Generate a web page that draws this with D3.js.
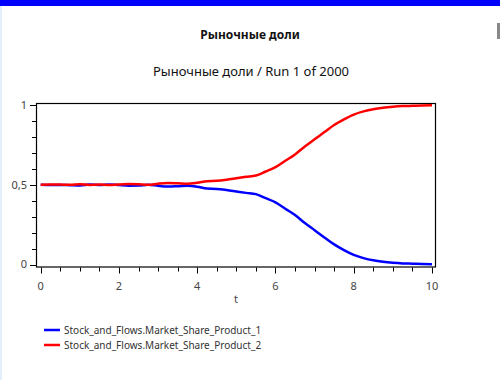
<!DOCTYPE html>
<html><head><meta charset="utf-8">
<script src="https://cdn.jsdelivr.net/npm/d3@7"></script>
<style>body{margin:0;background:#fff;}svg{display:block;}</style>
</head><body>
<script>
const title = "Рыночные доли";
const subtitle = "Рыночные доли / Run 1 of 2000";
const xLabel = "t";
const seriesNames = ["Stock_and_Flows.Market_Share_Product_1","Stock_and_Flows.Market_Share_Product_2"];
const seriesColors = ["#0000ff","#ff0000"];
const tValues = [0,0.25,0.5,0.75,1,1.25,1.5,1.75,2,2.25,2.5,2.75,3,3.25,3.5,3.75,4,4.25,4.5,4.75,5,5.25,5.5,5.75,6,6.25,6.5,6.75,7,7.25,7.5,7.75,8,8.25,8.5,8.75,9,9.25,9.5,9.75,10];
const product2 = [0.500,0.502,0.501,0.500,0.503,0.499,0.501,0.498,0.502,0.504,0.503,0.500,0.507,0.511,0.509,0.506,0.512,0.522,0.525,0.532,0.541,0.550,0.558,0.583,0.610,0.650,0.690,0.740,0.785,0.830,0.875,0.910,0.940,0.960,0.974,0.983,0.989,0.993,0.995,0.997,0.998];
const product1 = [0.500,0.498,0.499,0.497,0.495,0.501,0.499,0.502,0.498,0.494,0.495,0.500,0.493,0.489,0.491,0.494,0.488,0.476,0.474,0.467,0.458,0.449,0.441,0.416,0.390,0.350,0.310,0.260,0.215,0.170,0.126,0.090,0.060,0.040,0.026,0.017,0.011,0.007,0.005,0.003,0.002];
const xTicks = [0,2,4,6,8,10];
const yTicks = [0,0.5,1];
const yTickLabels = ["0","0,5","1"];

const W=500,H=380;
const svg=d3.select("body").append("svg").attr("width",W).attr("height",H);
const font="'Noto Sans', sans-serif";
svg.append("rect").attr("x",0).attr("y",0).attr("width",W).attr("height",6).attr("fill","#0000ff");
svg.append("rect").attr("x",0).attr("y",6).attr("width",2).attr("height",H-6).attr("fill","#e3f0fc");
svg.append("rect").attr("x",497).attr("y",23).attr("width",3).attr("height",16).attr("fill","#888");

svg.append("text").attr("x",250).attr("y",39).attr("text-anchor","middle").attr("font-family",font).attr("font-weight","bold").attr("font-size",12).attr("fill","#111").text(title);
svg.append("text").attr("x",251).attr("y",76).attr("text-anchor","middle").attr("font-family",font).attr("font-size",13).attr("fill","#111").text(subtitle);

const x=d3.scaleLinear().domain([0,10]).range([40.7,432]);
const y=d3.scaleLinear().domain([0,1]).range([264.5,105]);
const boxL=36,boxR=436,boxT=103,boxB=267.5;

svg.append("rect").attr("x",boxL+0.5).attr("y",boxT+0.5).attr("width",boxR-boxL-1).attr("height",boxB-boxT-1).attr("fill","none").attr("stroke","#000").attr("stroke-width",1.2);

const yMinor=d3.range(0,1.0001,0.1);
const ya=svg.append("g").attr("transform",`translate(${boxL},0)`);
ya.selectAll("line").data(yMinor).join("line")
 .attr("x1",d=>yTicks.some(t=>Math.abs(t-d)<1e-6)?-6:-4).attr("x2",0)
 .attr("y1",d=>Math.round(y(d))+0.5).attr("y2",d=>Math.round(y(d))+0.5).attr("stroke","#000");
ya.selectAll("text").data(yTicks).join("text")
 .attr("x",-9).attr("y",d=>y(d)).attr("dy","0.35em").attr("text-anchor","end")
 .attr("font-family",font).attr("font-size",11).attr("fill","#444").text((d,i)=>yTickLabels[i]);

const xMinor=d3.range(0,10.0001,0.5);
const xa=svg.append("g").attr("transform",`translate(0,${boxB})`);
xa.selectAll("line").data(xMinor).join("line")
 .attr("x1",d=>Math.round(x(d))+0.5).attr("x2",d=>Math.round(x(d))+0.5)
 .attr("y1",0).attr("y2",d=>xTicks.some(t=>Math.abs(t-d)<1e-6)?6:4).attr("stroke","#000");
xa.selectAll("text").data(xTicks).join("text")
 .attr("x",d=>x(d)).attr("y",22).attr("text-anchor","middle")
 .attr("font-family",font).attr("font-size",11).attr("fill","#444").text(d=>d);
svg.append("text").attr("x",236).attr("y",303).attr("text-anchor","middle").attr("font-family",font).attr("font-size",11).attr("fill","#444").text(xLabel);

const line=d3.line().x((d,i)=>x(tValues[i])).y(d=>y(d)).curve(d3.curveMonotoneX);
[product1,product2].forEach((s,k)=>{
  svg.append("path").attr("d",line(s)).attr("fill","none").attr("stroke",seriesColors[k]).attr("stroke-width",2.5).attr("stroke-linejoin","round");
});

seriesNames.forEach((n,i)=>{
  const ly=330+i*15;
  svg.append("line").attr("x1",44).attr("x2",60).attr("y1",ly).attr("y2",ly).attr("stroke",seriesColors[i]).attr("stroke-width",2.5);
  svg.append("text").attr("x",64).attr("y",ly).attr("dy","0.35em").attr("font-family",font).attr("font-size",10).attr("fill","#333").text(n);
});
</script>
</body></html>
